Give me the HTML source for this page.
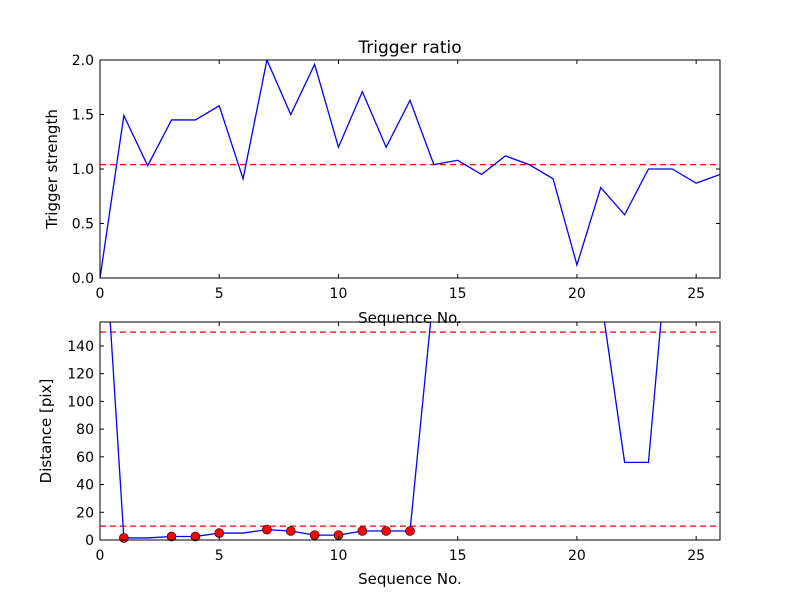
<!DOCTYPE html>
<html><head><meta charset="utf-8"><style>
body{margin:0;background:#fff;}
svg text{font-family:"DejaVu Sans","Liberation Sans",sans-serif;fill:#000;}
</style></head><body>
<svg id="c" width="800" height="600" viewBox="0 0 800 600"></svg>
<script>
const seqTop=[0,1,2,3,4,5,6,7,8,9,10,11,12,13,14,15,16,17,18,19,20,21,22,23,24,25,26];
const ratioValues=[0,1.49,1.03,1.45,1.45,1.58,0.91,2.0,1.5,1.96,1.2,1.71,1.2,1.63,1.04,1.08,0.95,1.12,1.04,0.91,0.12,0.83,0.58,1.0,1.0,0.87,0.95];
const ratioThreshold=1.04;
const distSeq=[0,1,2,3,4,5,6,7,8,9,10,11,12,13,14,15,16,17,18,19,20,21,22,23,24];
const distValues=[274,1.5,1.5,2.5,2.5,5,5,7.5,6.5,3.5,3.5,6.5,6.5,6.5,181,400,400,400,400,400,400,176,56,56,250];
const markerSeq=[1,3,4,5,7,8,9,10,11,12,13];
const markerValues=[1.5,2.5,2.5,5,7.5,6.5,3.5,3.5,6.5,6.5,6.5];
const distThresholds=[10,150];
const xTicks=[0,5,10,15,20,25];
const topYTicks=["0.0","0.5","1.0","1.5","2.0"];
const botYTicks=[0,20,40,60,80,100,120,140];

const NS="http://www.w3.org/2000/svg";
const svg=document.getElementById('c');
function mk(tag,attrs,parent){const e=document.createElementNS(NS,tag);for(const k in attrs)e.setAttribute(k,attrs[k]);(parent||svg).appendChild(e);return e;}
const L=100,R=720;
const sx=v=>L+(v/26)*(R-L);
function panel(top,bot,name){
  const g=mk('g',{});
  
  
  const cid='clip-'+name;
  const cp=mk('clipPath',{id:cid},g);mk('rect',{x:L,y:top,width:R-L,height:bot-top},cp);
  return {g,cid};
}
function axesFrame(g,top,bot){
  const r=mk('rect',{x:L,y:top,width:R-L,height:bot-top,fill:'none',stroke:'#000','stroke-width':1},g);
  
  
}
function xAxis(g,top,bot,labelY,name){
  xTicks.forEach(t=>{
    const x=sx(t);
    mk('line',{x1:x,y1:bot,x2:x,y2:bot-4,stroke:'#000'},g);
    mk('line',{x1:x,y1:top,x2:x,y2:top+4,stroke:'#000'},g);
    const tx=mk('text',{x:x,y:bot+20,'font-size':14,'text-anchor':'middle'},g);
    tx.textContent=t;
    
    
  });
  const xl=mk('text',{x:410,y:labelY,'font-size':15,'text-anchor':'middle'},g);
  xl.textContent='Sequence No.';
  
  
}
const T1=60,B1=278;
const sy1=v=>B1-(v/2)*(B1-T1);
const p1=panel(T1,B1,'trigger-ratio-panel');
const g1=p1.g;
topYTicks.forEach(t=>{
  const y=sy1(parseFloat(t));
  mk('line',{x1:L,y1:y,x2:L+4,y2:y,stroke:'#000'},g1);
  mk('line',{x1:R,y1:y,x2:R-4,y2:y,stroke:'#000'},g1);
  const tx=mk('text',{x:L-6,y:y+5,'font-size':14,'text-anchor':'end'},g1);
  tx.textContent=t;
  
  
});
const th1=mk('line',{x1:L,x2:R,y1:sy1(ratioThreshold),y2:sy1(ratioThreshold),stroke:'#f00','stroke-width':1.3,'stroke-dasharray':'6,4'},g1);


const l1=mk('polyline',{points:seqTop.map((s,i)=>sx(s)+','+sy1(ratioValues[i])).join(' '),fill:'none',stroke:'#00f','stroke-width':1.3,'clip-path':'url(#'+p1.cid+')'},g1);


axesFrame(g1,T1,B1);
xAxis(g1,T1,B1,323,'top-x-axis-title');
const tt=mk('text',{x:410,y:53,'font-size':17,'text-anchor':'middle'},g1);
tt.textContent='Trigger ratio';


const yl1=mk('text',{x:0,y:0,'font-size':15,'text-anchor':'middle',transform:'translate(57,169) rotate(-90)'},g1);
yl1.textContent='Trigger strength';



const T2=322,B2=540,YMAX2=157.3;
const sy2=v=>B2-(v/YMAX2)*(B2-T2);
const p2=panel(T2,B2,'distance-panel');
const g2=p2.g;
botYTicks.forEach(t=>{
  const y=sy2(t);
  mk('line',{x1:L,y1:y,x2:L+4,y2:y,stroke:'#000'},g2);
  mk('line',{x1:R,y1:y,x2:R-4,y2:y,stroke:'#000'},g2);
  const tx=mk('text',{x:L-6,y:y+5,'font-size':14,'text-anchor':'end'},g2);
  tx.textContent=t;
  
  
});
distThresholds.forEach(v=>{
  const ln=mk('line',{x1:L,x2:R,y1:sy2(v),y2:sy2(v),stroke:'#f00','stroke-width':1.3,'stroke-dasharray':'6,4'},g2);
  
  
});
const l2=mk('polyline',{points:distSeq.map((s,i)=>sx(s)+','+sy2(distValues[i])).join(' '),fill:'none',stroke:'#00f','stroke-width':1.3,'clip-path':'url(#'+p2.cid+')'},g2);


markerSeq.forEach((s,i)=>{
  const c=mk('circle',{cx:sx(s),cy:sy2(markerValues[i]),r:4.5,fill:'#f00',stroke:'#000','stroke-width':0.6},g2);
  
  
});
axesFrame(g2,T2,B2);
xAxis(g2,T2,B2,584,'bottom-x-axis-title');
const yl2=mk('text',{x:0,y:0,'font-size':15,'text-anchor':'middle',transform:'translate(51,431) rotate(-90)'},g2);
yl2.textContent='Distance [pix]';


</script>
</body></html>
